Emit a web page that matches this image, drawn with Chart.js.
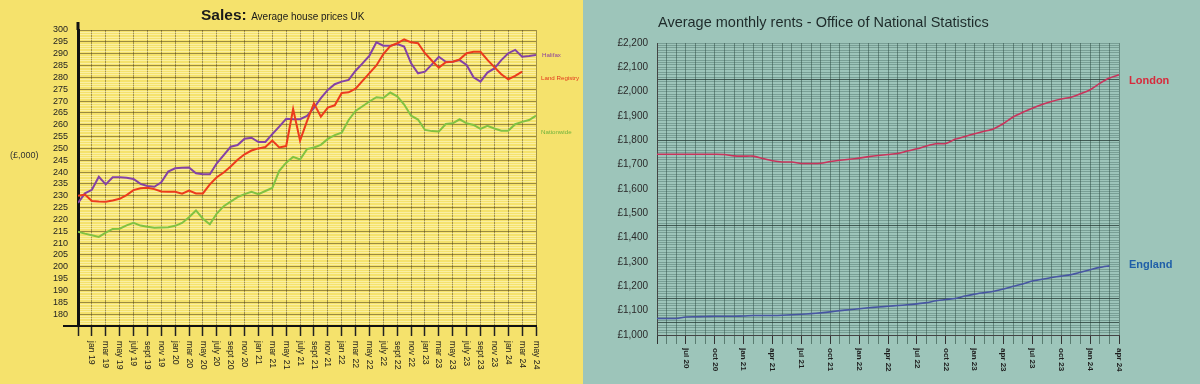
<!DOCTYPE html>
<html>
<head>
<meta charset="utf-8">
<script src="https://cdn.jsdelivr.net/npm/chart.js@4.4.1/dist/chart.umd.min.js"></script>
<style>
  body { margin: 0; width: 1200px; height: 384px; overflow: hidden; font-family: "Liberation Sans", Arial, sans-serif; }
  #wrap { position: relative; width: 1200px; height: 384px; }
  #left { position: absolute; left: 0; top: 0; width: 583px; height: 384px; background: #f5e26c; }
  #right { position: absolute; left: 583px; top: 0; width: 617px; height: 384px; background: #9dc5ba; }
  canvas { position: absolute; left: 0; top: 0; }
  .lbl { position: absolute; white-space: nowrap; line-height: 1; }
</style>
</head>
<body>
<div id="wrap">
  <div id="left">
    <canvas id="sales-chart" width="583" height="384"></canvas>
    <div class="lbl" style="left:201px; top:7px; color:#1a1a1a;"><span style="font-weight:bold; font-size:15.5px;">Sales:</span> <span style="font-size:10px;">Average house prices UK</span></div>
    <div class="lbl" style="left:10px; top:151px; font-size:9px; color:#333;">(£,000)</div>
    <div class="lbl" style="left:542px; top:52px; font-size:6.2px; color:#8a3f9e;">Halifax</div>
    <div class="lbl" style="left:541px; top:75px; font-size:6.2px; color:#e2381c;">Land Registry</div>
    <div class="lbl" style="left:541px; top:129px; font-size:6.2px; color:#6fb33c;">Nationwide</div>
  </div>
  <div id="right">
    <canvas id="rent-chart" width="617" height="384"></canvas>
    <div class="lbl" style="left:75px; top:15px; font-size:14.5px; color:#1e2b2a;">Average monthly rents - Office of National Statistics</div>
    <div class="lbl" style="left:546px; top:75px; font-size:11px; font-weight:bold; color:#d62b3c;">London</div>
    <div class="lbl" style="left:546px; top:259px; font-size:11px; font-weight:bold; color:#1f5fa8;">England</div>
  </div>
</div>
<script>
Chart.defaults.font.family = '"Liberation Sans", Arial, sans-serif';

// Sales: monthly values (£,000), first point = nov 18
const salesTicks = ['jan 19', 'mar 19', 'may 19', 'july 19', 'sept 19', 'nov 19', 'jan 20', 'mar 20', 'may 20',
  'july 20', 'sept 20', 'nov 20', 'jan 21', 'mar 21', 'may 21', 'july 21', 'sept 21', 'nov 21', 'jan 22', 'mar 22',
  'may 22', 'july 22', 'sept 22', 'nov 22', 'jan 23', 'mar 23', 'may 23', 'july 23', 'sept 23', 'nov 23', 'jan 24',
  'mar 24', 'may 24'];

const halifax = [227, 231, 232.5, 238, 234.8, 237.8, 237.8, 237.6, 237.1, 235, 234.1, 233.8, 235.7, 240.2, 241.6,
  241.8, 241.9, 239.5, 239.1, 239.1, 243.7, 247.2, 250.7, 251.4, 254.1, 254.5, 252.7, 252.7, 256, 259.2, 262.5,
  262.3, 262.3, 263.7, 267.1, 271.2, 274.7, 277.1, 278.2, 278.9, 282.8, 285.9, 289.2, 294.8, 293.4, 293.4, 294.1,
  293, 285.9, 281.7, 282.4, 285.5, 288.7, 286.6, 286.6, 287.3, 285.2, 280, 278.2, 282, 283.8, 287.3, 290.2, 291.6,
  288.7, 289, 289.4];

const landRegistry = [230, 230.5, 227.8, 227.6, 227.5, 228, 228.7, 230.3, 232.4, 233.2, 233.4, 232.8, 231.8, 231.7,
  231.7, 230.9, 232.2, 231, 231, 234.8, 237.8, 239.8, 242.4, 245.2, 247.5, 249.1, 250, 250.6, 253.3, 250.4, 251,
  266.6, 253.3, 261.5, 269, 263.4, 267.2, 268.2, 273.4, 273.7, 275.2, 278.5, 281.8, 285, 289.8, 293.2, 294.4, 296,
  294.8, 294.4, 290.2, 287, 284.1, 286.4, 286.6, 287.6, 290.2, 290.8, 290.8, 287.4, 284.3, 281.3, 279.2, 280.6, 282.4];

const nationwide = [214.8, 214, 213.3, 212.6, 214.4, 216, 216.1, 217.5, 218.6, 217.4, 216.9, 216.5, 216.6, 216.7,
  217.3, 218.5, 220.9, 223.8, 220.3, 218, 222.5, 225.6, 227.5, 229.4, 230.7, 231.7, 230.7, 232, 233.3, 240.5, 244,
  246.4, 245.3, 249.7, 250.4, 251.5, 254, 255.6, 256.6, 262, 265.8, 267.8, 269.8, 271.6, 271.3, 273.6, 272, 268.5,
  263.8, 262.2, 257.8, 257.3, 257.1, 260.3, 260.6, 262.3, 260.6, 259.9, 258.2, 259.5, 258.4, 257.5, 257.5, 260.2,
  261.2, 262, 263.8];

// Rents: monthly values (£), first point = apr 20
const rentTicks = ['jul 20', 'oct 20', 'jan 21', 'apr 21', 'jul 21', 'oct 21', 'jan 22', 'apr 22', 'jul 22', 'oct 22',
  'jan 23', 'apr 23', 'jul 23', 'oct 23', 'jan 24', 'apr 24'];

const london = [1743, 1743, 1743, 1743, 1743, 1743, 1743, 1742, 1736, 1735, 1735, 1725, 1716, 1711, 1711, 1705, 1705,
  1706, 1713, 1718, 1722, 1727, 1733, 1738, 1742, 1746, 1756, 1765, 1777, 1786, 1787, 1805, 1816, 1827, 1837, 1848,
  1869, 1896, 1915, 1932, 1947, 1960, 1970, 1977, 1991, 2008, 2034, 2056, 2069];

const england = [1068, 1068, 1068, 1074, 1075, 1076, 1077, 1077, 1077, 1078, 1080, 1080, 1080, 1081, 1083, 1085, 1088,
  1091, 1095, 1100, 1104, 1108, 1112, 1115, 1118, 1121, 1124, 1128, 1133, 1141, 1146, 1150, 1160, 1168, 1174, 1180,
  1189, 1200, 1210, 1222, 1229, 1236, 1242, 1248, 1258, 1268, 1278, 1284];

const toPoints = arr => arr.map((v, i) => ({ x: i, y: v }));

// x labels read top-to-bottom, so they are drawn here instead of by the scale
function verticalLabels(labelFor, font, color, offset) {
  return {
    id: 'verticalLabels',
    afterDraw(chart) {
      const scale = chart.scales.x;
      const ctx = chart.ctx;
      ctx.save();
      ctx.font = font;
      ctx.fillStyle = color;
      ctx.textAlign = 'left';
      ctx.textBaseline = 'middle';
      scale.ticks.forEach(t => {
        const label = labelFor(t.value);
        if (!label) return;
        ctx.save();
        ctx.translate(scale.getPixelForValue(t.value), scale.top + offset);
        ctx.rotate(Math.PI / 2);
        ctx.fillText(label, 0, 0);
        ctx.restore();
      });
      ctx.restore();
    }
  };
}

const axisStubs = {
  id: 'axisStubs',
  afterDraw(chart) {
    const { ctx, chartArea } = chart;
    ctx.save();
    ctx.strokeStyle = '#111';
    ctx.lineWidth = 3;
    ctx.beginPath();
    ctx.moveTo(chartArea.left, chartArea.top - 8);
    ctx.lineTo(chartArea.left, chartArea.top);
    ctx.stroke();
    ctx.lineWidth = 2;
    ctx.beginPath();
    ctx.moveTo(chartArea.left - 15, chartArea.bottom);
    ctx.lineTo(chartArea.left, chartArea.bottom);
    ctx.stroke();
    ctx.restore();
  }
};

function lineSet(data, color, width, tension) {
  return {
    data: toPoints(data),
    borderColor: color,
    borderWidth: width,
    pointRadius: 0,
    tension: tension,
    fill: false
  };
}

new Chart(document.getElementById('sales-chart'), {
  type: 'line',
  data: {
    datasets: [
      lineSet(nationwide, '#82c242', 2, 0),
      lineSet(landRegistry, '#ec3b1d', 2, 0),
      lineSet(halifax, '#8442a6', 2, 0)
    ]
  },
  options: {
    responsive: false,
    animation: false,
    layout: { padding: { left: 0, right: 47, top: 30, bottom: 0 } },
    plugins: { legend: { display: false }, tooltip: { enabled: false } },
    scales: {
      x: {
        type: 'linear',
        min: 0,
        max: halifax.length - 1,
        ticks: { display: false, stepSize: 2 },
        grid: { color: 'rgba(80, 66, 30, 0.5)', tickColor: '#222', tickLength: 10, tickWidth: 1.5 },
        border: { color: '#111', width: 2 },
        afterFit: s => { s.height = 58; }
      },
      y: {
        min: 175,
        max: 300,
        ticks: {
          stepSize: 1,
          autoSkip: false,
          maxTicksLimit: 1000,
          padding: 10,
          color: '#222',
          font: { size: 9 },
          callback: v => (v % 5 === 0 && v > 175 ? String(v) : '')
        },
        grid: {
          drawTicks: false,
          color: c => (c.tick.value % 5 === 0 ? 'rgba(80, 66, 30, 0.55)' : 'rgba(255, 252, 215, 0.5)')
        },
        border: { color: '#111', width: 3 },
        afterFit: s => { s.width = 78; }
      }
    }
  },
  plugins: [
    verticalLabels(v => salesTicks[(v - 2) / 2], '8.7px "Liberation Sans", Arial, sans-serif', '#1a1a1a', 15),
    axisStubs
  ]
});

const strongRentLines = [1050, 1150, 1450, 1800, 2050];

new Chart(document.getElementById('rent-chart'), {
  type: 'line',
  data: {
    datasets: [
      lineSet(london, '#c8345c', 1.6, 0.25),
      lineSet(england, '#4756a2', 1.6, 0.25)
    ]
  },
  options: {
    responsive: false,
    animation: false,
    layout: { padding: { left: 0, right: 81, top: 43, bottom: 0 } },
    plugins: { legend: { display: false }, tooltip: { enabled: false } },
    scales: {
      x: {
        type: 'linear',
        min: 0,
        max: london.length - 1,
        ticks: { display: false, stepSize: 1 },
        grid: {
          color: 'rgba(45, 75, 65, 0.5)',
          tickColor: c => (c.tick.value % 3 === 0 ? '#333' : 'rgba(45, 75, 65, 0.6)'),
          tickLength: 9
        },
        border: { color: '#444', width: 1 },
        afterFit: s => { s.height = 49; }
      },
      y: {
        min: 1000,
        max: 2200,
        ticks: {
          stepSize: 10,
          autoSkip: false,
          maxTicksLimit: 1000,
          padding: 9,
          color: '#2a2a2a',
          font: { size: 10 },
          callback: v => (v % 100 === 0 ? '£' + v.toLocaleString('en-GB') : '')
        },
        grid: {
          drawTicks: false,
          color: c => (strongRentLines.includes(c.tick.value) ? 'rgba(35, 55, 50, 0.75)' : 'rgba(45, 80, 70, 0.32)')
        },
        border: { color: '#444', width: 1 },
        afterFit: s => { s.width = 74; }
      }
    }
  },
  plugins: [
    verticalLabels(v => (v % 3 === 0 ? rentTicks[v / 3 - 1] : undefined), 'bold 8px "Liberation Sans", Arial, sans-serif', '#1e1e1e', 13)
  ]
});
</script>
</body>
</html>
